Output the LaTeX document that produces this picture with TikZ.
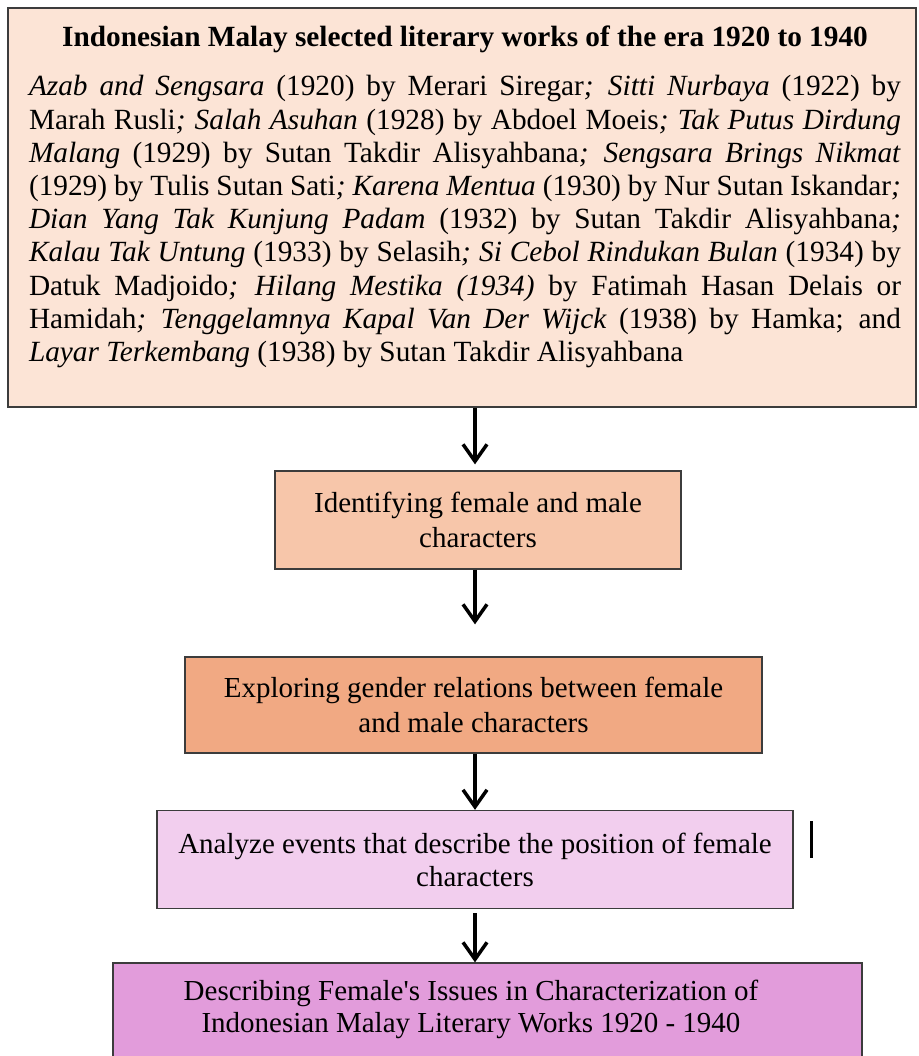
\documentclass[tikz,border=0pt]{standalone}
\usepackage{fontspec}
\setmainfont{Liberation Serif}
\usetikzlibrary{arrows.meta, positioning}
\definecolor{boxline}{HTML}{3C3C3C}
\definecolor{worksfill}{HTML}{FCE4D6}
\definecolor{identfill}{HTML}{F7C6AA}
\definecolor{explorefill}{HTML}{F1A983}
\definecolor{analyzefill}{HTML}{F2CEEE}
\definecolor{describefill}{HTML}{E29CDB}
\tikzset{
    stepbox/.style={draw=boxline, line width=1.3pt, align=center, inner sep=0pt}, % the flow boxes
    flow/.style={-{Straight Barb[length=17pt,width=24pt,line width=3.5pt]}, line width=3.5pt}, % the arrows
    boxtext/.style={font=\fontsize{29}{35}\selectfont}, % text in the lower boxes
}

\begin{document}
\begin{tikzpicture}[x=1pt, y=-1pt]
    \clip (0,0) rectangle (918,1056);
    \fill[white] (0,0) rectangle (918,1056);

    % source box
    \node[stepbox, fill=worksfill, minimum width=908pt, minimum height=399pt] at (462,207.5) (works) {};
    \node[anchor=north, inner sep=0pt, text width=872pt, align=justify,
          font=\fontsize{29.3}{33.2}\selectfont] at (465,26) (workslist) {%
        {\centering\bfseries Indonesian Malay selected literary works of the era 1920 to 1940\par}
        \vspace{15.8pt}\hyphenpenalty=10000
        \textit{Azab and Sengsara} (1920) by Merari Siregar\textit{; Sitti Nurbaya} (1922) by\linebreak
        Marah Rusli\textit{; Salah Asuhan} (1928) by Abdoel Moeis\textit{; Tak Putus Dirdung}\linebreak
        \textit{Malang} (1929) by Sutan Takdir Alisyahbana\textit{; Sengsara Brings Nikmat}\linebreak
        (1929) by Tulis Sutan Sati\textit{; Karena Mentua} (1930) by Nur Sutan Iskandar\textit{;}\linebreak
        \textit{Dian Yang Tak Kunjung Padam} (1932) by Sutan Takdir Alisyahbana\textit{;}\linebreak
        \textit{Kalau Tak Untung} (1933) by Selasih\textit{; Si Cebol Rindukan Bulan} (1934) by\linebreak
        Datuk Madjoido\textit{; Hilang Mestika (1934)} by Fatimah Hasan Delais or\linebreak
        Hamidah\textit{; Tenggelamnya Kapal Van Der Wijck} (1938) by Hamka; and\linebreak
        \textit{Layar Terkembang} (1938) by Sutan Takdir Alisyahbana};

    % steps
    \node[stepbox, boxtext, fill=identfill, minimum width=406pt, minimum height=98pt] at (478,520) (ident)
        {Identifying female and male\\characters};
    \node[stepbox, boxtext, fill=explorefill, minimum width=577pt, minimum height=96pt] at (473.5,705) (explore)
        {Exploring gender relations between female\\and male characters};
    \node[stepbox, boxtext, fill=analyzefill, minimum width=636pt, minimum height=98pt,
          font=\fontsize{29}{33}\selectfont] at (475,859.5) (analyze)
        {Analyze events that describe the position of female\\characters};
    \node[stepbox, fill=describefill, minimum width=749pt, minimum height=110pt] at (487.5,1018) (describe) {};
    \node[align=center, inner sep=0pt, font=\fontsize{29}{32}\selectfont] at (471,1009) (describetext)
        {Describing Female\textquotesingle s Issues in Characterization of\\Indonesian Malay Literary Works 1920 - 1940};

    % arrows
    \coordinate (spine) at (475,0);
    \draw[flow, shorten >=6pt] (works.south -| spine) -- (ident.north -| spine);
    \draw[flow, shorten >=32pt] (ident.south -| spine) -- (explore.north -| spine);
    \draw[flow] (explore.south -| spine) -- (analyze.north -| spine);
    \draw[flow, shorten <=4pt] (analyze.south -| spine) -- (describe.north -| spine);

    % stray bar beside the fourth box
    \draw[line width=3pt] (811,821) -- (811,858);
\end{tikzpicture}
\end{document}
